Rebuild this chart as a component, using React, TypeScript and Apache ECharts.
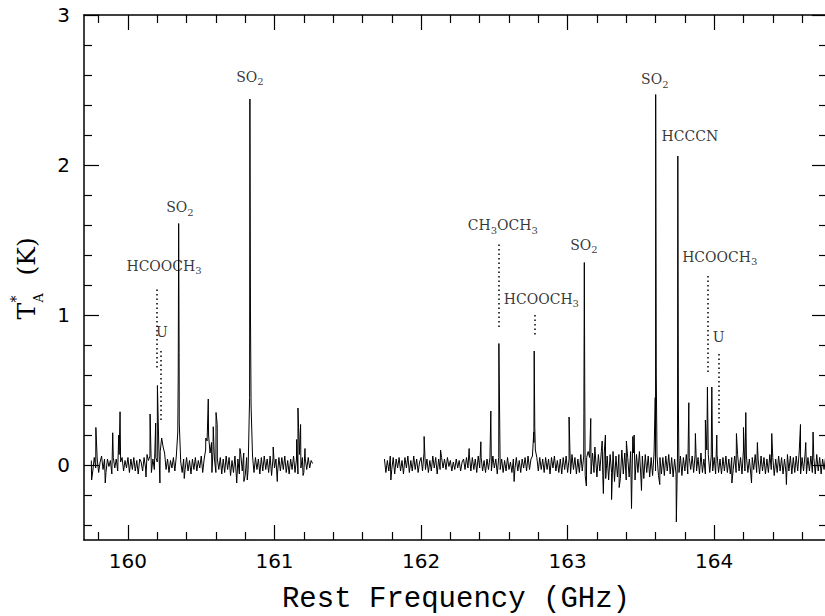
import React, { useEffect, useRef } from 'react';
import * as echarts from 'echarts';

// ---- axes ----
const X_MIN = 159.7;
const X_MAX = 164.77;
const Y_MIN = -0.5;
const Y_MAX = 3;
const xMajorTicks = [160, 161, 162, 163, 164];
const xMinorTicks = [159.8, 160.2, 160.4, 160.6, 160.8, 161.2, 161.4, 161.6, 161.8, 162.2, 162.4, 162.6, 162.8, 163.2, 163.4, 163.6, 163.8, 164.2, 164.4, 164.6];
const yMajorTicks = [0, 1, 2, 3];
const yMinorTicks = [-0.4, -0.2, 0.2, 0.4, 0.6, 0.8, 1.2, 1.4, 1.6, 1.8, 2.2, 2.4, 2.6, 2.8];

// ---- spectrum: channel grid ----
const channelWidth = 0.01; // GHz
const seg1Start = 159.75;
const seg1Baseline = [
  0.03, -0.04, 0.05, -0.02, 0.04, -0.05, 0.02, 0.06, -0.03, 0.04,
  -0.05, 0.04, -0.01, 0.03, -0.06, 0.05, -0.02, 0.04, -0.04, 0.07,
  0.02, 0.05, -0.04, 0.03, -0.02, 0.05, -0.05, 0.04, -0.03, 0.05,
  -0.04, 0.03, -0.06, 0.04, 0.02, -0.04, 0.05, -0.02, 0.07, 0.03,
  0.06, -0.05, 0.04, -0.03, 0.05, 0.02, 0.14, 0.09, 0.18, 0.12,
  0.08, -0.03, 0.04, -0.05, 0.03, -0.02, 0.05, -0.04, 0.06, 0.22,
  0.28, 0.02, -0.05, 0.04, -0.03, 0.05, -0.04, 0.03, -0.06, 0.04,
  -0.03, 0.05, -0.04, 0.03, -0.02, 0.06, -0.05, 0.04, 0.10, 0.16,
  0.20, 0.08, 0.15, 0.09, 0.04, -0.05, 0.04, -0.03, 0.05, -0.06,
  0.04, -0.05, 0.06, -0.03, 0.05, -0.07, 0.03, -0.05, 0.06, -0.08,
  0.04, -0.06, 0.07, -0.04, 0.08, -0.07, 0.05, -0.03, 0.45, 0.40,
  0.06, -0.05, 0.05, -0.03, 0.04, -0.06, 0.05, -0.04, 0.06, -0.03,
  0.04, -0.05, 0.06, -0.07, 0.05, -0.02, 0.04, -0.06, 0.05, -0.04,
  0.05, -0.03, 0.06, -0.05, 0.03, -0.06, 0.04, -0.03, 0.06, -0.05,
  0.04, -0.06, 0.07, -0.02, 0.05, -0.05, 0.04, -0.03, 0.05, -0.02,
  0.03, 0.01,
];
const seg1Lines: [number, number][] = [
  [159.752, -0.10], [159.781, 0.25], [159.845, -0.12], [159.896, 0.215], [159.937, 0.20],
  [159.946, 0.355], [160.123, -0.08], [160.151, 0.34], [160.189, 0.28], [160.201, 0.53],
  [160.218, -0.12], [160.343, 0.60], [160.346, 1.61], [160.349, 0.75], [160.384, -0.09],
  [160.531, 0.18], [160.548, 0.44], [160.573, -0.05], [160.582, 0.255], [160.601, 0.35],
  [160.609, 0.27], [160.742, -0.12], [160.764, 0.11], [160.791, -0.11], [160.814, -0.10],
  [160.832, 2.44], [160.836, 1.00], [160.991, 0.12], [161.019, -0.11], [161.151, 0.17],
  [161.160, 0.38], [161.178, 0.27], [161.195, -0.07], [161.208, 0.11],
];

const seg2Start = 161.75;
const seg2Baseline = [
  0.04, -0.05, 0.03, -0.04, 0.06, -0.03, 0.05, -0.06, 0.04, -0.02,
  0.05, -0.04, 0.03, -0.06, 0.05, -0.02, 0.06, -0.05, 0.03, -0.04,
  0.06, -0.03, 0.04, -0.05, 0.02, 0.05, -0.04, 0.08, -0.03, 0.04,
  -0.05, 0.03, -0.04, 0.06, -0.02, 0.05, -0.06, 0.04, -0.03, 0.05,
  -0.02, 0.04, -0.03, 0.05, -0.01, 0.03, -0.04, 0.02, -0.03, 0.04,
  -0.02, 0.03, -0.04, 0.02, 0.04, -0.03, 0.05, -0.02, 0.06, -0.04,
  0.05, -0.03, 0.04, -0.05, 0.06, -0.02, 0.05, -0.04, 0.03, -0.05,
  0.04, -0.03, 0.05, -0.04, 0.06, -0.02, 0.04, -0.06, 0.05, -0.03,
  0.04, -0.05, 0.03, -0.04, 0.05, -0.03, 0.02, -0.05, 0.04, -0.03,
  0.05, -0.04, 0.03, -0.05, 0.04, -0.02, 0.05, -0.04, 0.06, -0.03,
  0.04, 0.06, 0.15, 0.10, 0.05, -0.04, 0.05, -0.03, 0.04, -0.05,
  0.05, -0.03, 0.04, -0.06, 0.05, -0.02, 0.06, -0.04, 0.03, -0.05,
  0.04, -0.06, 0.05, -0.03, 0.06, -0.05, 0.04, -0.06, 0.07, -0.03,
  0.05, -0.06, 0.04, -0.05, 0.07, -0.04, 0.06, -0.07, 0.05, 0.09,
  0.05, -0.06, 0.08, -0.05, 0.06, -0.08, 0.07, -0.04, 0.09, -0.07,
  0.08, -0.09, 0.06, -0.10, 0.07, -0.05, 0.09, -0.11, 0.06, -0.08,
  0.07, -0.09, 0.10, -0.06, 0.08, -0.10, 0.05, -0.08, 0.09, -0.06,
  0.08, -0.10, 0.07, -0.05, 0.09, -0.08, 0.06, -0.09, 0.07, -0.05,
  0.06, -0.08, 0.05, -0.07, 0.08, -0.04, 0.06, -0.07, 0.05, -0.06,
  0.05, -0.07, 0.06, -0.04, 0.07, -0.06, 0.05, -0.08, 0.04, -0.06,
  0.08, -0.05, 0.06, -0.07, 0.05, -0.04, 0.07, -0.06, 0.05, -0.03,
  0.06, -0.05, 0.07, -0.04, 0.05, -0.06, 0.08, -0.05, 0.04, -0.06,
  0.10, 0.07, -0.05, 0.06, -0.04, 0.05, -0.06, 0.07, -0.05, 0.04,
  -0.06, 0.05, -0.04, 0.06, -0.05, 0.04, -0.06, 0.05, -0.03, 0.06,
  -0.05, 0.07, -0.04, 0.05, -0.06, 0.10, -0.04, 0.06, -0.05, 0.04,
  -0.06, 0.05, -0.03, 0.07, -0.05, 0.04, -0.06, 0.06, -0.04, 0.05,
  -0.06, 0.04, -0.05, 0.07, -0.03, 0.05, -0.07, 0.04, -0.05, 0.06,
  -0.04, 0.05, -0.06, 0.04, -0.05, 0.07, -0.04, 0.06, -0.06, 0.05,
  -0.05, 0.06, -0.04, 0.08, -0.06, 0.05, -0.04, 0.07, -0.06, 0.05,
  -0.04, 0.06, -0.05, 0.05, -0.06, 0.07, -0.04, 0.05, -0.06, 0.04,
  -0.03, 0.05,
];
const seg2Lines: [number, number][] = [
  [161.794, -0.10], [162.021, 0.19], [162.133, 0.10], [162.328, 0.11], [162.408, 0.155],
  [162.476, 0.36], [162.531, 0.81], [162.635, -0.11], [162.769, 0.22], [162.772, 0.76],
  [162.776, 0.25], [163.010, 0.32], [163.111, 0.35], [163.114, 1.35], [163.117, 0.50],
  [163.128, -0.14], [163.158, 0.31], [163.186, 0.12], [163.236, 0.16], [163.244, -0.19],
  [163.258, 0.20], [163.300, -0.23], [163.352, -0.15], [163.401, 0.16], [163.436, -0.29],
  [163.445, 0.19], [163.454, 0.20], [163.504, -0.17], [163.598, 0.45], [163.601, 2.47],
  [163.605, 0.60], [163.629, -0.13], [163.742, -0.38], [163.752, 2.06], [163.756, 0.40],
  [163.827, 0.415], [163.872, 0.21], [163.940, 0.30], [163.954, 0.52], [163.984, 0.52],
  [164.018, 0.20], [164.121, -0.12], [164.152, 0.21], [164.200, 0.25], [164.216, 0.35],
  [164.255, -0.12], [164.295, 0.15], [164.393, 0.21], [164.493, -0.13], [164.589, 0.27],
  [164.625, 0.15], [164.675, 0.22],
];

// ---- line identifications ----
const lineLabels = [
  { text: 'HCOOCH{s|3}', freq: 160.246, y: 1.327 },
  { text: 'U', freq: 160.232, y: 0.887 },
  { text: 'SO{s|2}', freq: 160.355, y: 1.72 },
  { text: 'SO{s|2}', freq: 160.832, y: 2.587 },
  { text: 'CH{s|3}OCH{s|3}', freq: 162.558, y: 1.6 },
  { text: 'HCOOCH{s|3}', freq: 162.821, y: 1.107 },
  { text: 'SO{s|2}', freq: 163.111, y: 1.467 },
  { text: 'SO{s|2}', freq: 163.595, y: 2.573 },
  { text: 'HCCCN', freq: 163.834, y: 2.193 },
  { text: 'HCOOCH{s|3}', freq: 164.038, y: 1.387 },
  { text: 'U', freq: 164.031, y: 0.853 },
];
const dottedMarkers = [
  { freq: 160.196, from: 0.65, to: 1.17 },
  { freq: 160.225, from: 0.30, to: 0.77 },
  { freq: 162.531, from: 0.92, to: 1.48 },
  { freq: 162.774, from: 0.87, to: 1.01 },
  { freq: 163.957, from: 0.62, to: 1.28 },
  { freq: 164.031, from: 0.28, to: 0.75 },
];

function buildSegment(start: number, base: number[], lines: [number, number][]) {
  const pts: [number, number][] = base.map((v, i) => [Math.round((start + i * channelWidth) * 10000) / 10000, v]);
  return pts.concat(lines).sort((a, b) => a[0] - b[0]);
}

const BLACK = '#000';
const tickLabelFont = { fontFamily: 'DejaVu Sans', fontSize: 20, color: BLACK };

function xAxisDef(position: string, ticks: number[], len: number, major: boolean, labels: boolean) {
  return {
    type: 'value', position, min: X_MIN, max: X_MAX,
    axisLine: { show: major, onZero: false, lineStyle: { color: BLACK, width: 1.5 } },
    axisTick: { show: true, inside: true, length: len, customValues: ticks, lineStyle: { color: BLACK, width: 1.2 } },
    axisLabel: labels
      ? { show: true, customValues: ticks, margin: 11, ...tickLabelFont, formatter: (v: number) => String(v) }
      : { show: false },
    splitLine: { show: false },
    minorTick: { show: false },
  };
}
function yAxisDef(position: string, ticks: number[], len: number, major: boolean, labels: boolean) {
  return {
    type: 'value', position, min: Y_MIN, max: Y_MAX,
    axisLine: { show: major, onZero: false, lineStyle: { color: BLACK, width: 1.5 } },
    axisTick: { show: true, inside: true, length: len, customValues: ticks, lineStyle: { color: BLACK, width: 1.2 } },
    axisLabel: labels
      ? { show: true, customValues: ticks, margin: 14, ...tickLabelFont, formatter: (v: number) => String(v) }
      : { show: false },
    splitLine: { show: false },
    minorTick: { show: false },
  };
}

export default function App() {
  const ref = useRef<HTMLDivElement>(null);
  useEffect(() => {
    if (!ref.current) return;
    const chart = echarts.init(ref.current, null, { renderer: 'svg' });
    const seg1 = buildSegment(seg1Start, seg1Baseline, seg1Lines);
    const seg2 = buildSegment(seg2Start, seg2Baseline, seg2Lines);
    const serif = 'DejaVu Serif';
    chart.setOption({
      animation: false,
      backgroundColor: '#fff',
      grid: { left: 84, right: 3, top: 15, bottom: 76, containLabel: false },
      xAxis: [
        xAxisDef('bottom', xMajorTicks, 15, true, true),
        xAxisDef('bottom', xMinorTicks, 8, false, false),
        xAxisDef('top', xMajorTicks, 15, true, false),
        xAxisDef('top', xMinorTicks, 8, false, false),
      ],
      yAxis: [
        yAxisDef('left', yMajorTicks, 15, true, true),
        yAxisDef('left', yMinorTicks, 8, false, false),
        yAxisDef('right', yMajorTicks, 15, true, false),
        yAxisDef('right', yMinorTicks, 8, false, false),
      ],
      series: [
        {
          type: 'line', xAxisIndex: 0, yAxisIndex: 0, data: seg1, symbol: 'none', showSymbol: false,
          lineStyle: { color: BLACK, width: 1 }, silent: true, z: 3,
        },
        {
          type: 'line', xAxisIndex: 0, yAxisIndex: 0, data: seg2, symbol: 'none', showSymbol: false,
          lineStyle: { color: BLACK, width: 1 }, silent: true, z: 3,
          markLine: {
            silent: true, symbol: ['none', 'none'], label: { show: false },
            lineStyle: { color: BLACK, width: 1.5, type: [1.5, 3] },
            data: dottedMarkers.map((m) => [{ coord: [m.freq, m.from] }, { coord: [m.freq, m.to] }]),
          },
        },
        {
          type: 'scatter', xAxisIndex: 0, yAxisIndex: 0, symbolSize: 1, silent: true, z: 5,
          itemStyle: { color: 'rgba(0,0,0,0)' },
          data: lineLabels.map((l) => ({ value: [l.freq, l.y], label: { formatter: l.text } })),
          label: {
            show: true, position: 'inside', fontFamily: serif, fontSize: 14, color: BLACK,
            rich: { s: { fontFamily: serif, fontSize: 10, color: BLACK, padding: [10, 0, 0, 0] } },
          },
        },
      ],
      graphic: [
        {
          type: 'text', x: 456, y: 599,
          style: { text: 'Rest Frequency (GHz)', fontFamily: '"Liberation Mono", "Courier New", Courier, monospace', fontSize: 29, fill: BLACK, align: 'center', verticalAlign: 'middle' },
        },
        {
          type: 'group', x: 26, y: 277.5, rotation: Math.PI / 2,
          children: [
            { type: 'text', x: -42, y: 0, style: { text: 'T', fontFamily: serif, fontSize: 25, fill: BLACK, align: 'left', verticalAlign: 'middle' } },
            { type: 'text', x: -25, y: -10, style: { text: '*', fontFamily: serif, fontSize: 14, fill: BLACK, align: 'left', verticalAlign: 'middle' } },
            { type: 'text', x: -25, y: 12, style: { text: 'A', fontFamily: serif, fontSize: 13, fill: BLACK, align: 'left', verticalAlign: 'middle' } },
            { type: 'text', x: 2, y: 0, style: { text: '(K)', fontFamily: serif, fontSize: 25, fill: BLACK, align: 'left', verticalAlign: 'middle' } },
          ],
        },
      ],
    });
    return () => chart.dispose();
  }, []);
  return <div ref={ref} style={{ position: 'fixed', left: 0, top: 0, width: 830, height: 616, background: '#fff' }} />;
}
